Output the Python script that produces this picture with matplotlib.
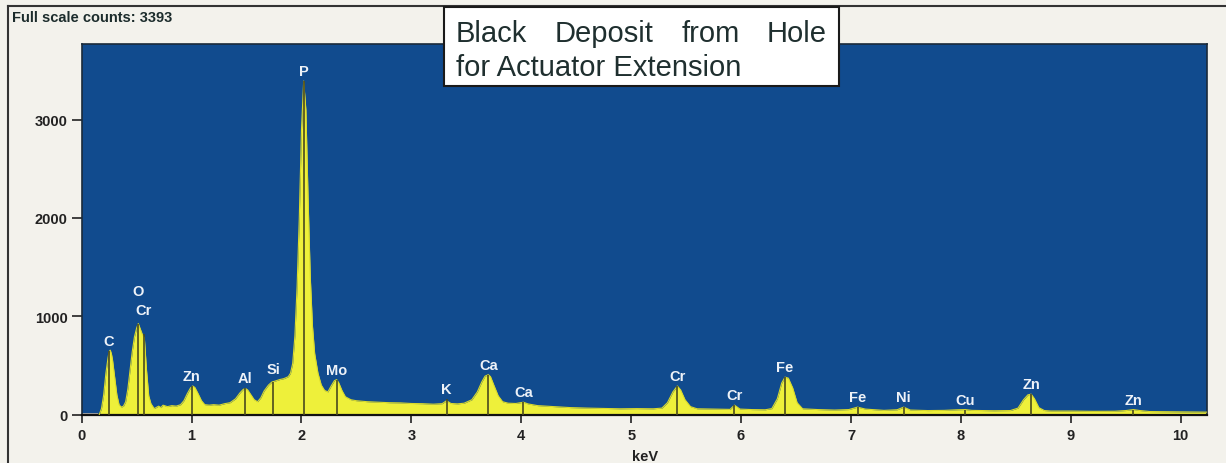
import numpy as np
import matplotlib
matplotlib.use("Agg")
import matplotlib.pyplot as plt
from matplotlib.lines import Line2D
from matplotlib.patches import Rectangle

plt.rcParams['font.family'] = ['Liberation Sans', 'DejaVu Sans']

# EDS spectrum, keV vs counts
energy = [0.00, 0.15, 0.16, 0.18, 0.20, 0.22, 0.24, 0.25, 0.26, 0.27, 0.28, 0.30,
          0.32, 0.34, 0.36, 0.38, 0.40, 0.42, 0.44, 0.46, 0.48, 0.50, 0.515, 0.53,
          0.55, 0.57, 0.59, 0.61, 0.63, 0.66, 0.70, 0.72, 0.74, 0.78, 0.82, 0.86,
          0.90, 0.93, 0.96, 0.99, 1.01, 1.03, 1.06, 1.09, 1.12, 1.16, 1.20, 1.25,
          1.30, 1.35, 1.40, 1.44, 1.47, 1.49, 1.51, 1.54, 1.57, 1.60, 1.63, 1.66,
          1.70, 1.73, 1.76, 1.80, 1.84, 1.88, 1.90, 1.92, 1.94, 1.96, 1.98, 2.00,
          2.02, 2.04, 2.06, 2.08, 2.10, 2.12, 2.15, 2.18, 2.21, 2.24, 2.27, 2.30,
          2.32, 2.34, 2.37, 2.40, 2.45, 2.50, 2.60, 2.70, 2.80, 2.90, 3.00, 3.10,
          3.20, 3.28, 3.32, 3.36, 3.42, 3.48, 3.55, 3.60, 3.64, 3.67, 3.70, 3.72,
          3.75, 3.79, 3.83, 3.88, 3.95, 4.02, 4.06, 4.15, 4.30, 4.45, 4.60, 4.75,
          4.90, 5.05, 5.20, 5.28, 5.33, 5.38, 5.42, 5.45, 5.49, 5.54, 5.60, 5.75,
          5.90, 5.94, 5.99, 6.10, 6.22, 6.28, 6.33, 6.37, 6.40, 6.43, 6.47, 6.51,
          6.56, 6.70, 6.85, 6.98, 7.06, 7.13, 7.30, 7.42, 7.48, 7.54, 7.70, 7.85,
          7.97, 8.04, 8.10, 8.30, 8.45, 8.52, 8.57, 8.61, 8.64, 8.67, 8.71, 8.76,
          8.82, 9.00, 9.20, 9.40, 9.50, 9.57, 9.63, 9.72, 9.90, 10.10, 10.24]
counts = [20, 20, 0, 60, 200, 420, 580, 640, 655, 620, 560, 380,
          200, 100, 75, 85, 130, 260, 450, 640, 790, 880, 925, 880,
          820, 780, 450, 190, 110, 60, 85, 70, 95, 80, 90, 85,
          100, 140, 210, 270, 290, 275, 210, 140, 100, 95, 100, 95,
          110, 120, 160, 220, 255, 265, 250, 200, 150, 130, 170, 240,
          300, 330, 340, 355, 365, 385, 420, 520, 800, 1300, 2000, 2900,
          3393, 3100, 2200, 1400, 900, 620, 420, 300, 245, 230, 290, 345,
          355, 320, 240, 180, 150, 140, 130, 125, 120, 118, 112, 110,
          105, 110, 140, 112, 108, 115, 150, 230, 330, 390, 405, 385,
          300, 190, 130, 115, 112, 125, 108, 90, 80, 70, 65, 62,
          58, 60, 58, 65, 120, 230, 290, 250, 150, 80, 58, 55,
          52, 95, 55, 50, 48, 60, 160, 320, 380, 370, 270, 120,
          58, 50, 45, 50, 75, 55, 42, 48, 75, 45, 40, 42,
          48, 50, 42, 38, 40, 65, 150, 200, 207, 160, 70, 40,
          35, 35, 32, 33, 40, 50, 40, 30, 28, 25, 24]

# element line markers: label, energy (keV), marker height (counts)
elements = ['C', 'O', 'Cr', 'Zn', 'Al', 'Si', 'P', 'Mo', 'K', 'Ca', 'Ca',
            'Cr', 'Cr', 'Fe', 'Fe', 'Ni', 'Cu', 'Zn', 'Zn']
line_kev = [0.25, 0.515, 0.565, 1.00, 1.49, 1.745, 2.02, 2.32, 3.32, 3.70, 4.02,
            5.42, 5.94, 6.40, 7.06, 7.48, 8.04, 8.64, 9.57]
line_top = [650, 925, 820, 290, 265, 335, 3393, 350, 155, 405, 125,
            290, 95, 380, 75, 75, 45, 207, 45]
# extra lift (pixels) for labels stacked over a neighbouring peak
label_lift = [0, 23, 14, 0, 0, 3, 0, 0, 0, 0, 0, 0, 0, 0, 0, 0, 0, 0, 0]

x_ticks = [0, 1, 2, 3, 4, 5, 6, 7, 8, 9, 10]
y_ticks = [0, 1000, 2000, 3000]

W, H = 1226, 464
bg = '#f3f2ec'
blue = '#114b8e'
yellow = '#eef03a'

fig = plt.figure(figsize=(W / 100, H / 100), dpi=100, facecolor=bg)
ax = fig.add_axes([81.7 / W, 1 - 415.5 / H, (1207 - 81.7) / W, (415.5 - 45) / H])
ax.set_facecolor(blue)
ax.set_xlim(0, 10.24)
ax.set_ylim(0, 3770)

e = np.array(energy)
c = np.array(counts)
ax.fill_between(e, c, where=e <= 0.15, color='#a8a8a8', lw=0, zorder=2)
ax.fill_between(e, c, where=e >= 0.15, color=yellow, lw=0, zorder=2)
ax.plot(e[2:], c[2:], color='#dada2a', lw=0.8, zorder=3)

ax.vlines(line_kev, 0, line_top, color='#4a4a1e', lw=1.2, zorder=4)
for name, x, top, lift in zip(elements, line_kev, line_top, label_lift):
    ax.annotate(name, (x, top), xytext=(0, 6 + lift), textcoords='offset pixels',
                ha='center', va='baseline', color='#eef2f8', fontsize=10.5,
                fontweight='bold', zorder=5)

ax.set_xticks(x_ticks)
ax.set_yticks(y_ticks)
ax.tick_params(axis='x', length=6, width=1.2, pad=4, labelsize=10.5,
               colors='#222222')
ax.tick_params(axis='y', length=7, width=1.2, pad=3, labelsize=10.5,
               colors='#222222')
for lab in ax.get_xticklabels() + ax.get_yticklabels():
    lab.set_fontweight('bold')
for side in ['top', 'right', 'left']:
    ax.spines[side].set_color('#1a2a3a')
    ax.spines[side].set_linewidth(1.2)
ax.spines['bottom'].set_color('#111111')
ax.spines['bottom'].set_linewidth(1.6)

fig.text(645 / W, 1 - 461 / H, 'keV', ha='center', va='baseline',
         fontsize=10.5, fontweight='bold', color='#222222')
fig.text(11.7 / W, 1 - 22 / H, 'Full scale counts: 3393', ha='left',
         va='baseline', fontsize=10.5, fontweight='bold', color='#1c2c2c')

# outer frame (left and top edges)
fig.add_artist(Line2D([8 / W, 8 / W], [0, 1 - 7 / H], color='#333333', lw=1.5))
fig.add_artist(Line2D([8 / W, 1], [1 - 7 / H, 1 - 7 / H], color='#333333', lw=1.5))

# title box with justified first line
fig.add_artist(Rectangle((444 / W, 1 - 87 / H), (839 - 444) / W, (87 - 8) / H,
                         transform=fig.transFigure, facecolor='white',
                         edgecolor='#1a1a1a', lw=1.5, zorder=10))
title_color = '#1f2f2f'
words = ['Black', 'Deposit', 'from', 'Hole']
objs = [fig.text(0, 1 - 42 / H, w, ha='left', va='baseline', fontsize=21,
                 color=title_color, zorder=11) for w in words]
fig.canvas.draw()
renderer = fig.canvas.get_renderer()
widths = [t.get_window_extent(renderer).width for t in objs]
gap = (827 - 456 - sum(widths)) / (len(words) - 1)
x = 456
for t, w in zip(objs, widths):
    t.set_x(x / W)
    x += w + gap
fig.text(456 / W, 1 - 76 / H, 'for Actuator Extension', ha='left',
         va='baseline', fontsize=21, color=title_color, zorder=11)

fig.savefig('out.png', dpi=100, facecolor=bg)
